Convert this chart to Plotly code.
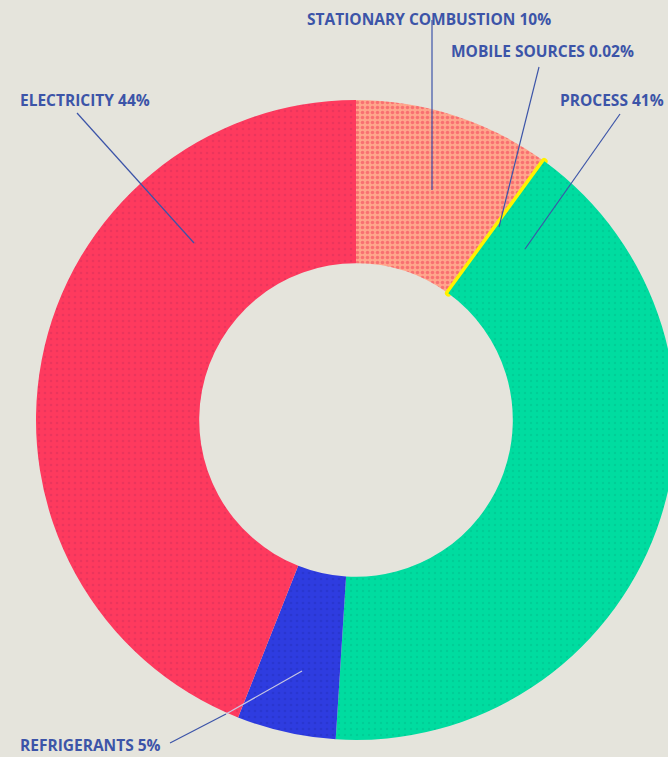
import plotly.graph_objects as go

# ---- data ----
categories = ["STATIONARY COMBUSTION", "MOBILE SOURCES", "PROCESS", "REFRIGERANTS", "ELECTRICITY"]
values = [10, 0.02, 41, 5, 44]
label_pct = ["10%", "0.02%", "41%", "5%", "44%"]
colors = ["#FFA68C", "#FFF200", "#00DCA0", "#2E3CE0", "#FE3A5E"]
speckle = ["#F23A55", "#FFF200", "#00C08C", "#2430C0", "#D8305A"]

W, H = 680, 757
BG = "#E5E4DC"
TXT = "#3C54A8"

def px(x, y):
    return x / W, 1 - y / H

# pie geometry (pixels)
cx, cy, R = 356, 420, 320
yc = 1 - cy / H

fig = go.Figure()
fig.add_trace(go.Pie(
    labels=categories,
    values=values,
    sort=False,
    direction="clockwise",
    rotation=0,
    hole=0.49,
    textinfo="none",
    hoverinfo="label+percent",
    showlegend=False,
    marker=dict(
        colors=colors,
        line=dict(color=["rgba(0,0,0,0)", "#FFF200", "rgba(0,0,0,0)", "rgba(0,0,0,0)", "rgba(0,0,0,0)"],
                  width=[0, 6.5, 0, 0, 0]),
        pattern=dict(
            shape=[".", "", ".", ".", "."],
            fgcolor=speckle,
            size=[5, 5, 6, 6, 6],
            solidity=[0.4, 0.1, 0.12, 0.15, 0.15],
            fillmode="overlay",
        ),
    ),
    domain=dict(x=[(cx - R) / W, (cx + R) / W], y=[yc - R / H, yc + R / H]),
))

# label positions (text left x, center y) and leader lines (pixel coords)
label_pos = [(305, 19), (449, 51), (558, 100), (18, 745), (18, 100)]
leaders = [
    ([(432, 20), (432, 190)], TXT),
    ([(539, 67), (499, 227)], TXT),
    ([(620, 114), (525, 249)], TXT),
    ([(170, 743), (226, 714)], TXT),
    ([(226, 714), (302, 671)], "#C9C7E2"),
    ([(77, 113), (194, 243)], TXT),
]

shapes = []
for (a, b), col in leaders:
    (xa, ya), (xb, yb) = px(*a), px(*b)
    shapes.append(dict(type="line", xref="paper", yref="paper",
                       x0=xa, y0=ya, x1=xb, y1=yb,
                       line=dict(color=col, width=1.2)))

annotations = []
for cat, pct, (lx, ly) in zip(categories, label_pct, label_pos):
    xx, yy = px(lx, ly)
    annotations.append(dict(
        text=f"<b>{cat} {pct}</b>", x=xx, y=yy, xref="paper", yref="paper",
        xanchor="left", yanchor="middle", showarrow=False,
        font=dict(family="Open Sans", size=15.5, color=TXT),
    ))

fig.update_layout(
    width=W, height=H,
    margin=dict(l=0, r=0, t=0, b=0),
    paper_bgcolor=BG, plot_bgcolor=BG,
    shapes=shapes, annotations=annotations,
)

fig.write_html(
    "out.html",
    config={"displayModeBar": False},
    post_script="document.body.style.margin='0';document.body.style.background='#E5E4DC';"
                "document.body.style.overflow='hidden';",
)
